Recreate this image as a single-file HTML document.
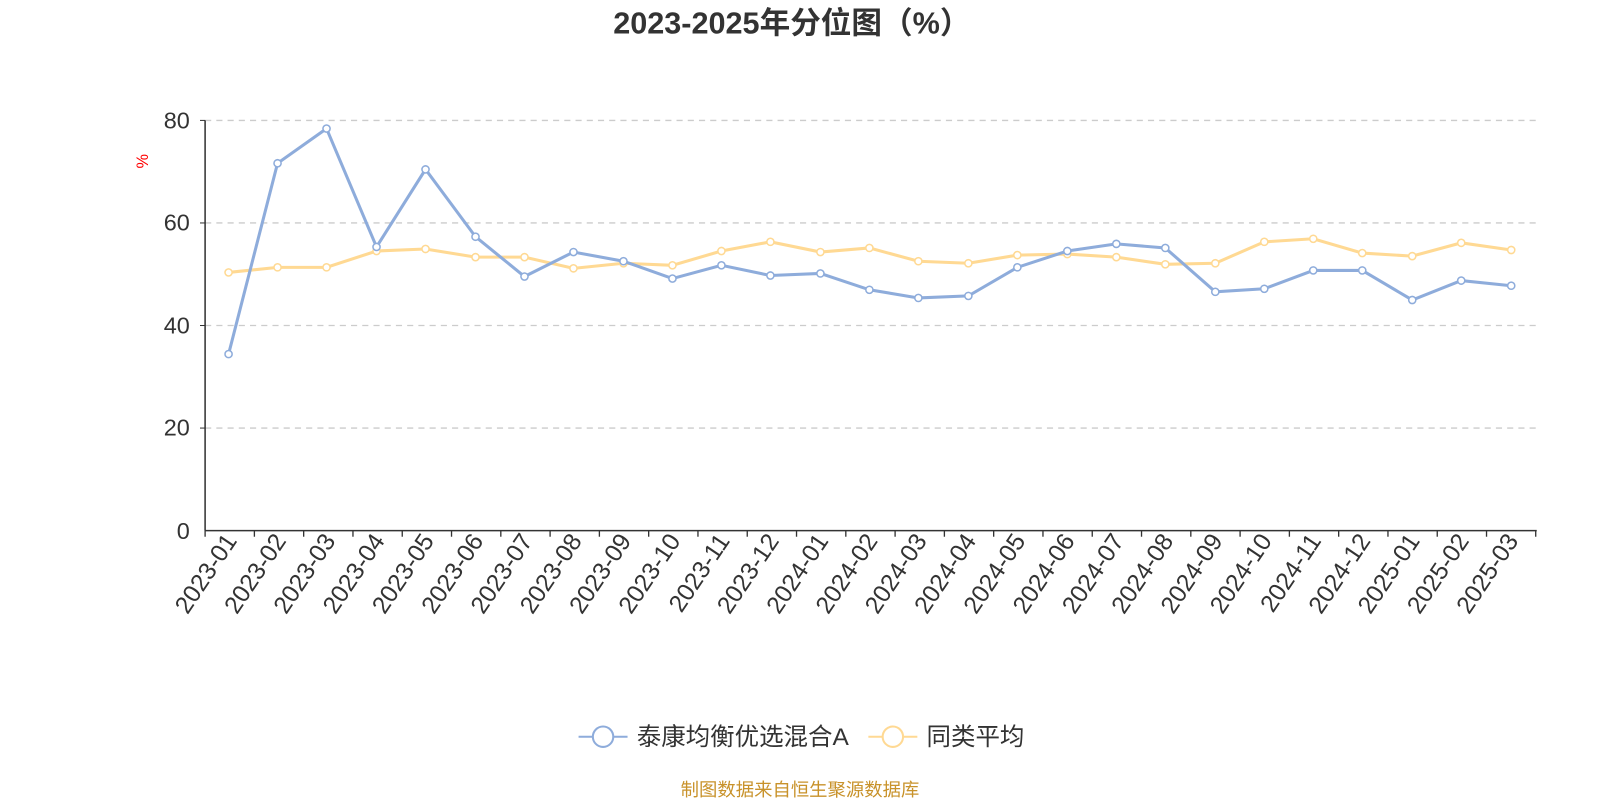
<!DOCTYPE html><html><head><meta charset="utf-8"><style>body{margin:0;background:#fff}svg{display:block}text{font-family:"Liberation Sans","Noto Sans CJK SC",sans-serif}</style></head><body>
<svg width="1600" height="800" viewBox="0 0 1568 784" xmlns="http://www.w3.org/2000/svg">
<text x="776" y="33" text-anchor="middle" font-size="30" font-weight="bold" fill="#333">2023-2025年分位图（%）</text>
<g stroke="#ccc" stroke-dasharray="6,5" stroke-width="1.3">
<line x1="201" y1="118" x2="1505" y2="118"/><line x1="201" y1="218.5" x2="1505" y2="218.5"/><line x1="201" y1="319" x2="1505" y2="319"/><line x1="201" y1="419.5" x2="1505" y2="419.5"/></g>
<line x1="201" y1="118" x2="201" y2="520" stroke="#333" stroke-width="1.5"/>
<line x1="196" y1="118" x2="201" y2="118" stroke="#333"/><line x1="196" y1="218.5" x2="201" y2="218.5" stroke="#333"/><line x1="196" y1="319" x2="201" y2="319" stroke="#333"/><line x1="196" y1="419.5" x2="201" y2="419.5" stroke="#333"/>
<line x1="201" y1="520" x2="1506" y2="520" stroke="#333" stroke-width="1.5"/>
<g font-size="23" fill="#333" text-anchor="end"><text x="186" y="126">80</text><text x="186" y="226">60</text><text x="186" y="327">40</text><text x="186" y="427">20</text><text x="186" y="528">0</text></g>
<text x="145" y="158" font-size="16" fill="red" transform="rotate(-90 145 158)" text-anchor="middle">%</text>
<g stroke="#333" stroke-width="1.3">
<line x1="201" y1="520" x2="201" y2="526"/><line x1="249.3" y1="520" x2="249.3" y2="526"/><line x1="297.6" y1="520" x2="297.6" y2="526"/><line x1="345.9" y1="520" x2="345.9" y2="526"/><line x1="394.2" y1="520" x2="394.2" y2="526"/><line x1="442.5" y1="520" x2="442.5" y2="526"/><line x1="490.8" y1="520" x2="490.8" y2="526"/><line x1="539.1" y1="520" x2="539.1" y2="526"/><line x1="587.4" y1="520" x2="587.4" y2="526"/><line x1="635.7" y1="520" x2="635.7" y2="526"/><line x1="684" y1="520" x2="684" y2="526"/><line x1="732.3" y1="520" x2="732.3" y2="526"/><line x1="780.6" y1="520" x2="780.6" y2="526"/><line x1="828.9" y1="520" x2="828.9" y2="526"/><line x1="877.2" y1="520" x2="877.2" y2="526"/><line x1="925.5" y1="520" x2="925.5" y2="526"/><line x1="973.8" y1="520" x2="973.8" y2="526"/><line x1="1022.1" y1="520" x2="1022.1" y2="526"/><line x1="1070.4" y1="520" x2="1070.4" y2="526"/><line x1="1118.7" y1="520" x2="1118.7" y2="526"/><line x1="1167" y1="520" x2="1167" y2="526"/><line x1="1215.3" y1="520" x2="1215.3" y2="526"/><line x1="1263.6" y1="520" x2="1263.6" y2="526"/><line x1="1311.9" y1="520" x2="1311.9" y2="526"/><line x1="1360.2" y1="520" x2="1360.2" y2="526"/><line x1="1408.5" y1="520" x2="1408.5" y2="526"/><line x1="1456.8" y1="520" x2="1456.8" y2="526"/><line x1="1505" y1="520" x2="1505" y2="526"/></g>
<g font-size="24" fill="#333" text-anchor="end">
<text transform="translate(233,530) rotate(-56)">2023-01</text>
<text transform="translate(281.3,530) rotate(-56)">2023-02</text>
<text transform="translate(329.6,530) rotate(-56)">2023-03</text>
<text transform="translate(377.9,530) rotate(-56)">2023-04</text>
<text transform="translate(426.2,530) rotate(-56)">2023-05</text>
<text transform="translate(474.5,530) rotate(-56)">2023-06</text>
<text transform="translate(522.8,530) rotate(-56)">2023-07</text>
<text transform="translate(571.1,530) rotate(-56)">2023-08</text>
<text transform="translate(619.4,530) rotate(-56)">2023-09</text>
<text transform="translate(667.7,530) rotate(-56)">2023-10</text>
<text transform="translate(716,530) rotate(-56)">2023-11</text>
<text transform="translate(764.3,530) rotate(-56)">2023-12</text>
<text transform="translate(812.6,530) rotate(-56)">2024-01</text>
<text transform="translate(860.9,530) rotate(-56)">2024-02</text>
<text transform="translate(909.2,530) rotate(-56)">2024-03</text>
<text transform="translate(957.5,530) rotate(-56)">2024-04</text>
<text transform="translate(1005.8,530) rotate(-56)">2024-05</text>
<text transform="translate(1054.1,530) rotate(-56)">2024-06</text>
<text transform="translate(1102.4,530) rotate(-56)">2024-07</text>
<text transform="translate(1150.7,530) rotate(-56)">2024-08</text>
<text transform="translate(1199,530) rotate(-56)">2024-09</text>
<text transform="translate(1247.3,530) rotate(-56)">2024-10</text>
<text transform="translate(1295.6,530) rotate(-56)">2024-11</text>
<text transform="translate(1343.9,530) rotate(-56)">2024-12</text>
<text transform="translate(1392.2,530) rotate(-56)">2025-01</text>
<text transform="translate(1440.5,530) rotate(-56)">2025-02</text>
<text transform="translate(1488.8,530) rotate(-56)">2025-03</text>
</g>
<polyline fill="none" stroke="#ffd993" stroke-width="3" points="224,267 272,262 320,262 369,246 417,244 466,252 514,252 562,263 611,258 659,260 707,246 755,237 804,247 852,243 900,256 949,258 997,250 1046,249 1094,252 1142,259 1191,258 1239,237 1287,234 1335,248 1384,251 1432,238 1481,245"/>
<g fill="#fff" stroke="#ffd993" stroke-width="1.5"><circle cx="224" cy="267" r="3.5"/><circle cx="272" cy="262" r="3.5"/><circle cx="320" cy="262" r="3.5"/><circle cx="369" cy="246" r="3.5"/><circle cx="417" cy="244" r="3.5"/><circle cx="466" cy="252" r="3.5"/><circle cx="514" cy="252" r="3.5"/><circle cx="562" cy="263" r="3.5"/><circle cx="611" cy="258" r="3.5"/><circle cx="659" cy="260" r="3.5"/><circle cx="707" cy="246" r="3.5"/><circle cx="755" cy="237" r="3.5"/><circle cx="804" cy="247" r="3.5"/><circle cx="852" cy="243" r="3.5"/><circle cx="900" cy="256" r="3.5"/><circle cx="949" cy="258" r="3.5"/><circle cx="997" cy="250" r="3.5"/><circle cx="1046" cy="249" r="3.5"/><circle cx="1094" cy="252" r="3.5"/><circle cx="1142" cy="259" r="3.5"/><circle cx="1191" cy="258" r="3.5"/><circle cx="1239" cy="237" r="3.5"/><circle cx="1287" cy="234" r="3.5"/><circle cx="1335" cy="248" r="3.5"/><circle cx="1384" cy="251" r="3.5"/><circle cx="1432" cy="238" r="3.5"/><circle cx="1481" cy="245" r="3.5"/></g>
<polyline fill="none" stroke="#8eacdb" stroke-width="3" points="224,347 272,160 320,126 369,242 417,166 466,232 514,271 562,247 611,256 659,273 707,260 755,270 804,268 852,284 900,292 949,290 997,262 1046,246 1094,239 1142,243 1191,286 1239,283 1287,265 1335,265 1384,294 1432,275 1481,280"/>
<g fill="#fff" stroke="#8eacdb" stroke-width="1.5"><circle cx="224" cy="347" r="3.5"/><circle cx="272" cy="160" r="3.5"/><circle cx="320" cy="126" r="3.5"/><circle cx="369" cy="242" r="3.5"/><circle cx="417" cy="166" r="3.5"/><circle cx="466" cy="232" r="3.5"/><circle cx="514" cy="271" r="3.5"/><circle cx="562" cy="247" r="3.5"/><circle cx="611" cy="256" r="3.5"/><circle cx="659" cy="273" r="3.5"/><circle cx="707" cy="260" r="3.5"/><circle cx="755" cy="270" r="3.5"/><circle cx="804" cy="268" r="3.5"/><circle cx="852" cy="284" r="3.5"/><circle cx="900" cy="292" r="3.5"/><circle cx="949" cy="290" r="3.5"/><circle cx="997" cy="262" r="3.5"/><circle cx="1046" cy="246" r="3.5"/><circle cx="1094" cy="239" r="3.5"/><circle cx="1142" cy="243" r="3.5"/><circle cx="1191" cy="286" r="3.5"/><circle cx="1239" cy="283" r="3.5"/><circle cx="1287" cy="265" r="3.5"/><circle cx="1335" cy="265" r="3.5"/><circle cx="1384" cy="294" r="3.5"/><circle cx="1432" cy="275" r="3.5"/><circle cx="1481" cy="280" r="3.5"/></g>
<line x1="567" y1="722" x2="615" y2="722" stroke="#8eacdb" stroke-width="2"/><circle cx="591" cy="722" r="10" fill="#fff" stroke="#8eacdb" stroke-width="2"/>
<text x="624" y="730" font-size="24" fill="#333">泰康均衡优选混合A</text>
<line x1="851" y1="722" x2="899" y2="722" stroke="#ffd993" stroke-width="2"/><circle cx="875" cy="722" r="10" fill="#fff" stroke="#ffd993" stroke-width="2"/>
<text x="908" y="730" font-size="24" fill="#333">同类平均</text>
<text x="784" y="780" font-size="18" fill="#c8922a" text-anchor="middle">制图数据来自恒生聚源数据库</text>
</svg></body></html>
